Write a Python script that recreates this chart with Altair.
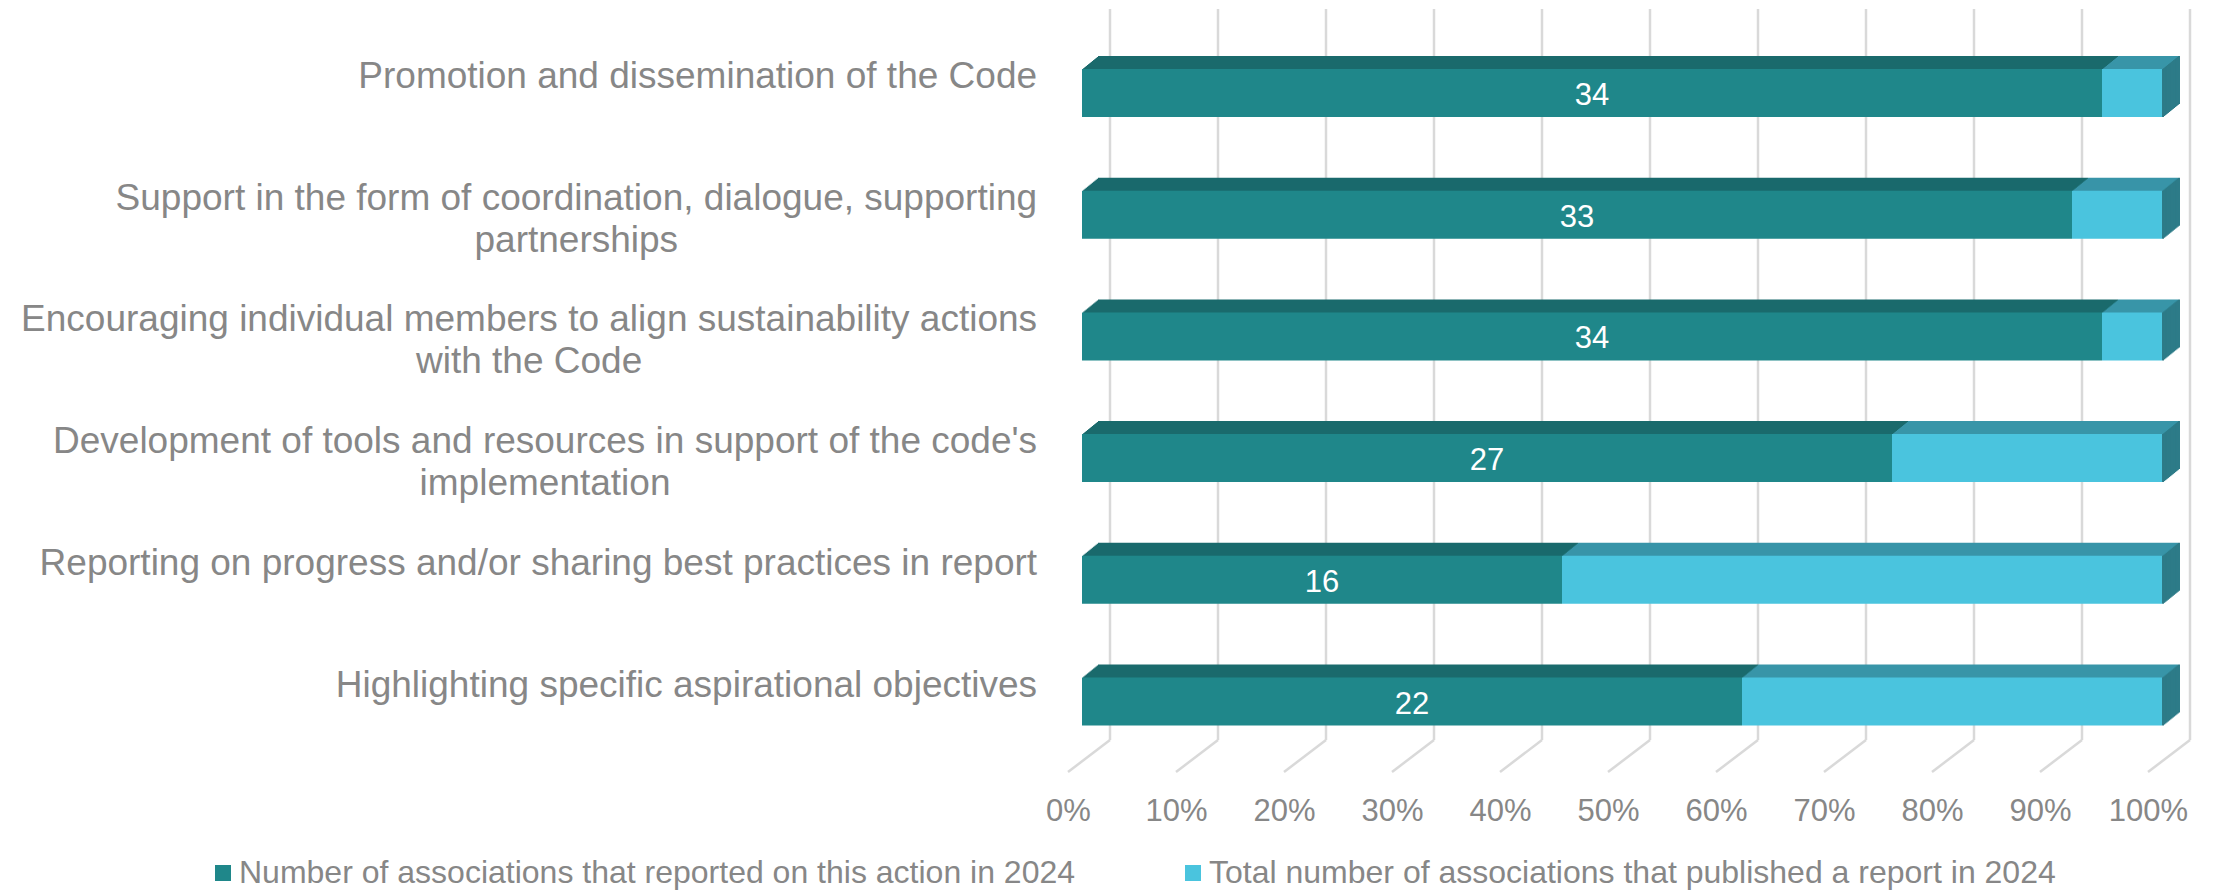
import altair as alt
import pandas as pd

# ---------------- data ----------------
categories = [
    ["Promotion and dissemination of the Code"],
    ["Support in the form of coordination, dialogue, supporting", "partnerships"],
    ["Encouraging individual members to align sustainability actions", "with the Code"],
    ["Development of tools and resources in support of the code's", "implementation"],
    ["Reporting on progress and/or sharing best practices in report"],
    ["Highlighting specific aspirational objectives"],
]
reported = [34, 33, 34, 27, 16, 22]          # reported on this action
remaining = [2, 3, 2, 9, 20, 14]             # rest of the 36 published reports
series = [
    "Number of associations that reported on this action in 2024",
    "Total number of associations that published a report in 2024",
]
ticks = [0, 0.1, 0.2, 0.3, 0.4, 0.5, 0.6, 0.7, 0.8, 0.9, 1.0]

# ---------------- styling ----------------
FONT = "Liberation Sans"
GRAY = "#878787"
GRID = "#d9d9d9"
FRONT = ["#1f878a", "#4ac4de"]
TOP = ["#1a6a6c", "#3895a8"]
SIDE = "#2d7b88"
CAT_FS = 37
DEPTH_STEPS = 13
DX = 16 / DEPTH_STEPS

keys = [" ".join(c) for c in categories]

rows = []
for i, k in enumerate(keys):
    rows.append({"cat": k, "series": series[0], "val": reported[i], "order": 0})
    rows.append({"cat": k, "series": series[1], "val": remaining[i], "order": 1})
df = pd.DataFrame(rows)

# Arial / Liberation Sans advance widths (1/1000 em) to centre multi-line labels
AW = {" ": 278, "'": 191, ",": 278, "/": 278, "-": 333, ".": 278,
      "A": 667, "B": 667, "C": 722, "D": 722, "E": 667, "F": 611, "G": 778, "H": 722,
      "I": 278, "J": 500, "K": 667, "L": 556, "M": 833, "N": 722, "O": 778, "P": 667,
      "Q": 778, "R": 722, "S": 667, "T": 611, "U": 722, "V": 667, "W": 944, "X": 667,
      "Y": 667, "Z": 611,
      "a": 556, "b": 556, "c": 500, "d": 556, "e": 556, "f": 278, "g": 556, "h": 556,
      "i": 222, "j": 222, "k": 500, "l": 222, "m": 833, "n": 556, "o": 556, "p": 556,
      "q": 556, "r": 333, "s": 500, "t": 278, "u": 556, "v": 500, "w": 722, "x": 500,
      "y": 500, "z": 500}


def text_w(s, fs):
    return sum(AW.get(ch, 556) for ch in s) * fs / 1000.0


LABEL_GAP = 45
lab_values = []
for c, k in zip(categories, keys):
    w = max(text_w(line, CAT_FS) for line in c)
    lab_values.append({"cat": k, "lines": c, "lx": -LABEL_GAP - w / 2})

W, H = 1080, 776.5
BACK_FLOOR = 731
FRONT_FLOOR = 763

xscale = alt.Scale(domain=[0, 1], nice=False, zero=True)
yscale = alt.Scale(paddingInner=0.6056, paddingOuter=0.493)
xaxis = alt.Axis(values=ticks, format=".0%", labelOffset=-14, labelPadding=11,
                 domain=False, ticks=False, grid=False, labelFontSize=31,
                 labelColor=GRAY, labelFlush=False, title=None, labelFont=FONT)


def X(f):
    return alt.X(f"{f}:Q", scale=xscale, axis=xaxis, title=None)


Y = alt.Y("cat:N", sort=keys, scale=yscale, axis=None, title=None)


def stacked():
    return alt.Chart(df).transform_stack(
        stack="val", groupby=["cat"], as_=["s0", "s1"], offset="normalize",
        sort=[alt.SortField("order", order="ascending")])


tdf = pd.DataFrame({"t": ticks})
layers = []

# back-wall grid lines and floor diagonals
layers.append(alt.Chart(tdf).mark_rule(color=GRID, strokeWidth=2.5, xOffset=28).encode(
    x=X("t"), y=alt.value(0), y2=alt.value(BACK_FLOOR)))
layers.append(alt.Chart(tdf).mark_rule(color=GRID, strokeWidth=2.5, xOffset=28, x2Offset=-14).encode(
    x=X("t"), x2=alt.X2("t:Q"), y=alt.value(BACK_FLOOR), y2=alt.value(FRONT_FLOOR)))

# top faces (extruded copies)
for k in range(DEPTH_STEPS, 0, -1):
    layers.append(stacked().mark_bar(xOffset=k * DX, x2Offset=k * DX, yOffset=-k).encode(
        x=X("s0"), x2=alt.X2("s1:Q"), y=Y,
        color=alt.condition(alt.datum.order == 0, alt.value(TOP[0]), alt.value(TOP[1]))))

# right side face
for k in range(0, DEPTH_STEPS + 1):
    layers.append(stacked().transform_filter(alt.datum.order == 1).mark_bar(
        color=SIDE, xOffset=k * DX, x2Offset=k * DX + 2, yOffset=-k).encode(
        x=X("s1"), x2=alt.X2("s1:Q"), y=Y))

# front faces with legend
layers.append(stacked().mark_bar().encode(
    x=X("s0"), x2=alt.X2("s1:Q"), y=Y,
    color=alt.Color("series:N", sort=series,
                    scale=alt.Scale(domain=series, range=FRONT),
                    legend=alt.Legend(orient="none", legendX=-875, legendY=848,
                                      direction="horizontal", title=None,
                                      labelFontSize=32, labelColor=GRAY, labelFont=FONT,
                                      symbolType="square", symbolSize=256,
                                      symbolStrokeWidth=0, labelOffset=0,
                                      columnPadding=101, labelLimit=0, padding=0))))

# value labels
layers.append(stacked().transform_filter(alt.datum.order == 0).transform_calculate(
    mid="(datum.s0 + datum.s1) / 2").mark_text(
    color="white", fontSize=31, baseline="middle", dy=3, font=FONT).encode(
    x=X("mid"), y=Y, text="val:Q"))

# category labels
layers.append(alt.Chart(alt.Data(values=lab_values)).mark_text(
    align="center", baseline="alphabetic", dy=-5, fontSize=CAT_FS, lineHeight=42,
    color=GRAY, font=FONT).encode(
    x=alt.X("lx:Q", scale=None, axis=None), y=Y, text="lines:N"))

chart = alt.layer(*layers).properties(
    width=W, height=H,
    padding={"left": 1074, "top": 1, "right": 32, "bottom": 106},
    autosize=alt.AutoSizeParams(type="none"),
    background="white",
).configure(font=FONT).configure_view(stroke=None)

chart.save("out.html", embed_options={"renderer": "svg", "actions": False})
